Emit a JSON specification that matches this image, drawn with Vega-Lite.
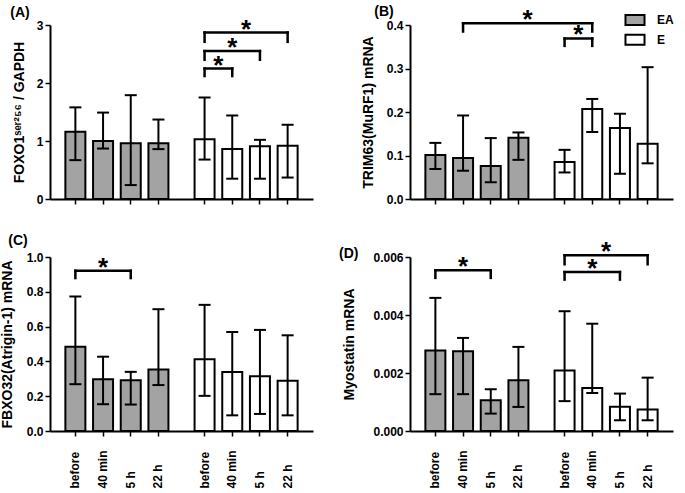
{
  "$schema": "https://vega.github.io/schema/vega-lite/v6.json",
  "padding": {"left": 0, "top": 5, "right": 2, "bottom": 2},
  "columns": 2,
  "spacing": {"row": 29, "column": 25},
  "resolve": {"scale": {"x": "independent", "y": "independent", "fill": "independent"}, "legend": {"fill": "independent"}},
  "config": {
    "view": {"stroke": null},
    "font": "Liberation Sans, Arial, sans-serif",
    "axis": {"domainColor": "black", "domainWidth": 2, "tickColor": "black", "tickWidth": 1.5, "tickSize": 5, "labelFont": "Liberation Sans, Arial, sans-serif", "labelFontSize": 12, "labelFontWeight": "bold", "labelColor": "black", "labelPadding": 2, "labelOverlap": false, "labelFlush": false, "labelBound": false, "titleFont": "Liberation Sans, Arial, sans-serif", "titleFontSize": 14, "titleFontWeight": "bold", "titleColor": "black", "titlePadding": 10, "grid": false},
    "title": {"font": "Liberation Sans, Arial, sans-serif", "fontSize": 14, "fontWeight": "bold", "color": "black", "anchor": "start", "frame": "bounds"}
  },
  "datasets": {
    "bars": [
      {"panel": "A", "bar": "EA before", "group": "EA", "value": 1.16, "lo": 0.67, "hi": 1.58},
      {"panel": "A", "bar": "EA 40 min", "group": "EA", "value": 1.0, "lo": 0.87, "hi": 1.49},
      {"panel": "A", "bar": "EA 5 h", "group": "EA", "value": 0.96, "lo": 0.24, "hi": 1.79},
      {"panel": "A", "bar": "EA 22 h", "group": "EA", "value": 0.96, "lo": 0.86, "hi": 1.37},
      {"panel": "A", "bar": "E before", "group": "E", "value": 1.03, "lo": 0.68, "hi": 1.75},
      {"panel": "A", "bar": "E 40 min", "group": "E", "value": 0.86, "lo": 0.35, "hi": 1.44},
      {"panel": "A", "bar": "E 5 h", "group": "E", "value": 0.91, "lo": 0.35, "hi": 1.02},
      {"panel": "A", "bar": "E 22 h", "group": "E", "value": 0.92, "lo": 0.37, "hi": 1.28},
      {"panel": "B", "bar": "EA before", "group": "EA", "value": 0.101, "lo": 0.069, "hi": 0.129},
      {"panel": "B", "bar": "EA 40 min", "group": "EA", "value": 0.094, "lo": 0.065, "hi": 0.192},
      {"panel": "B", "bar": "EA 5 h", "group": "EA", "value": 0.076, "lo": 0.0385, "hi": 0.14},
      {"panel": "B", "bar": "EA 22 h", "group": "EA", "value": 0.141, "lo": 0.09, "hi": 0.153},
      {"panel": "B", "bar": "E before", "group": "E", "value": 0.085, "lo": 0.061, "hi": 0.113},
      {"panel": "B", "bar": "E 40 min", "group": "E", "value": 0.207, "lo": 0.154, "hi": 0.23},
      {"panel": "B", "bar": "E 5 h", "group": "E", "value": 0.163, "lo": 0.058, "hi": 0.196},
      {"panel": "B", "bar": "E 22 h", "group": "E", "value": 0.127, "lo": 0.082, "hi": 0.303},
      {"panel": "C", "bar": "EA before", "group": "EA", "value": 0.484, "lo": 0.269, "hi": 0.773},
      {"panel": "C", "bar": "EA 40 min", "group": "EA", "value": 0.298, "lo": 0.154, "hi": 0.427},
      {"panel": "C", "bar": "EA 5 h", "group": "EA", "value": 0.292, "lo": 0.152, "hi": 0.34},
      {"panel": "C", "bar": "EA 22 h", "group": "EA", "value": 0.354, "lo": 0.264, "hi": 0.7},
      {"panel": "C", "bar": "E before", "group": "E", "value": 0.413, "lo": 0.202, "hi": 0.725},
      {"panel": "C", "bar": "E 40 min", "group": "E", "value": 0.339, "lo": 0.09, "hi": 0.569},
      {"panel": "C", "bar": "E 5 h", "group": "E", "value": 0.314, "lo": 0.098, "hi": 0.581},
      {"panel": "C", "bar": "E 22 h", "group": "E", "value": 0.289, "lo": 0.09, "hi": 0.55},
      {"panel": "D", "bar": "EA before", "group": "EA", "value": 0.00278, "lo": 0.00127, "hi": 0.00459},
      {"panel": "D", "bar": "EA 40 min", "group": "EA", "value": 0.00275, "lo": 0.00127, "hi": 0.00321},
      {"panel": "D", "bar": "EA 5 h", "group": "EA", "value": 0.00106, "lo": 0.0006, "hi": 0.00144},
      {"panel": "D", "bar": "EA 22 h", "group": "EA", "value": 0.00175, "lo": 0.00083, "hi": 0.0029},
      {"panel": "D", "bar": "E before", "group": "E", "value": 0.00209, "lo": 0.00103, "hi": 0.00413},
      {"panel": "D", "bar": "E 40 min", "group": "E", "value": 0.00148, "lo": 0.00131, "hi": 0.0037},
      {"panel": "D", "bar": "E 5 h", "group": "E", "value": 0.00084, "lo": 0.00037, "hi": 0.00129},
      {"panel": "D", "bar": "E 22 h", "group": "E", "value": 0.00074, "lo": 0.00037, "hi": 0.00184}
    ],
    "brackets": [
      {"panel": "A", "from": "E before", "to": "E 40 min", "mid": "s31", "y": 2.25, "yb": 2.12},
      {"panel": "A", "from": "E before", "to": "E 5 h", "mid": "E 40 min", "y": 2.55, "yb": 2.4},
      {"panel": "A", "from": "E before", "to": "E 22 h", "mid": "s37", "y": 2.87, "yb": 2.71},
      {"panel": "B", "from": "EA 40 min", "to": "E 40 min", "mid": "s20", "y": 0.404, "yb": 0.385},
      {"panel": "B", "from": "E before", "to": "E 40 min", "mid": "s31", "y": 0.369, "yb": 0.352},
      {"panel": "C", "from": "EA before", "to": "EA 5 h", "mid": "EA 40 min", "y": 0.921, "yb": 0.879},
      {"panel": "D", "from": "EA before", "to": "EA 5 h", "mid": "EA 40 min", "y": 0.00554, "yb": 0.00528},
      {"panel": "D", "from": "E before", "to": "E 5 h", "mid": "E 40 min", "y": 0.00548, "yb": 0.00522},
      {"panel": "D", "from": "E before", "to": "E 22 h", "mid": "s37", "y": 0.00606, "yb": 0.00575}
    ]
  },
  "concat": [
    {
      "width": 263, "height": 174,
      "title": {"text": "(A)", "offset": -3, "dx": -2},
      "layer": [
        {"data": {"name": "bars"}, "transform": [{"filter": "datum.panel === 'A'"}],
         "mark": {"type": "bar", "width": 20, "stroke": "black", "strokeWidth": 2, "opacity": 1},
         "encoding": {
           "x": {"field": "bar", "type": "nominal", "title": null, "scale": {"domain": ["l1","l2","l3","l4","l5","EA before","s1","s2","s3","s4","s5","EA 40 min","s7","s8","s9","s10","s11","EA 5 h","s13","s14","s15","s16","s17","EA 22 h","s19","s20","s21","s22","s23","s24","s25","s26","s27","E before","s29","s30","s31","s32","s33","E 40 min","s35","s36","s37","s38","s39","E 5 h","s41","s42","s43","s44","s45","E 22 h","r1","r2","r3","r4","r5"], "paddingInner": 0, "paddingOuter": 0},
                 "axis": {"values": ["EA before","EA 40 min","EA 5 h","EA 22 h","E before","E 40 min","E 5 h","E 22 h"], "labels": false}},
           "y": {"field": "value", "type": "quantitative", "scale": {"domain": [0, 3], "nice": false}, "axis": {"values": [0, 1, 2, 3], "format": "d", "labelOverlap": false}, "title": "FOXO1ˢᵉʳ²⁵⁶ / GAPDH"},
           "fill": {"field": "group", "type": "nominal", "scale": {"domain": ["EA", "E"], "range": ["#a3a3a3", "#ffffff"]}, "legend": null}
         }},
        {"data": {"name": "bars"}, "transform": [{"filter": "datum.panel === 'A'"}],
         "mark": {"type": "rule", "color": "black", "strokeWidth": 2},
         "encoding": {"x": {"field": "bar", "type": "nominal"}, "y": {"field": "lo", "type": "quantitative"}, "y2": {"field": "hi"}}},
        {"data": {"name": "bars"}, "transform": [{"filter": "datum.panel === 'A'"}],
         "mark": {"type": "tick", "color": "black", "size": 12, "thickness": 2, "opacity": 1, "orient": "horizontal"},
         "encoding": {"x": {"field": "bar", "type": "nominal"}, "y": {"field": "lo", "type": "quantitative"}}},
        {"data": {"name": "bars"}, "transform": [{"filter": "datum.panel === 'A'"}],
         "mark": {"type": "tick", "color": "black", "size": 12, "thickness": 2, "opacity": 1, "orient": "horizontal"},
         "encoding": {"x": {"field": "bar", "type": "nominal"}, "y": {"field": "hi", "type": "quantitative"}}},
        {"data": {"name": "brackets"}, "transform": [{"filter": "datum.panel === 'A'"}],
         "mark": {"type": "rule", "color": "black", "strokeWidth": 2.5, "strokeCap": "square"},
         "encoding": {"x": {"field": "from", "type": "nominal"}, "x2": {"field": "to"}, "y": {"field": "y", "type": "quantitative"}}},
        {"data": {"name": "brackets"}, "transform": [{"filter": "datum.panel === 'A'"}],
         "mark": {"type": "rule", "color": "black", "strokeWidth": 2.5, "strokeCap": "square"},
         "encoding": {"x": {"field": "from", "type": "nominal"}, "y": {"field": "y", "type": "quantitative"}, "y2": {"field": "yb"}}},
        {"data": {"name": "brackets"}, "transform": [{"filter": "datum.panel === 'A'"}],
         "mark": {"type": "rule", "color": "black", "strokeWidth": 2.5, "strokeCap": "square"},
         "encoding": {"x": {"field": "to", "type": "nominal"}, "y": {"field": "y", "type": "quantitative"}, "y2": {"field": "yb"}}},
        {"data": {"name": "brackets"}, "transform": [{"filter": "datum.panel === 'A'"}],
         "mark": {"type": "text", "text": "*", "fontSize": 26, "fontWeight": "bold", "color": "black", "baseline": "middle", "dy": -3},
         "encoding": {"x": {"field": "mid", "type": "nominal"}, "y": {"field": "y", "type": "quantitative"}}}
      ]
    },
    {
      "width": 263, "height": 174,
      "title": {"text": "(B)", "offset": -12, "dx": 13},
      "layer": [
        {"data": {"name": "bars"}, "transform": [{"filter": "datum.panel === 'B'"}],
         "mark": {"type": "bar", "width": 20, "stroke": "black", "strokeWidth": 2, "opacity": 1},
         "encoding": {
           "x": {"field": "bar", "type": "nominal", "title": null, "scale": {"domain": ["l1","l2","l3","l4","l5","EA before","s1","s2","s3","s4","s5","EA 40 min","s7","s8","s9","s10","s11","EA 5 h","s13","s14","s15","s16","s17","EA 22 h","s19","s20","s21","s22","s23","s24","s25","s26","s27","E before","s29","s30","s31","s32","s33","E 40 min","s35","s36","s37","s38","s39","E 5 h","s41","s42","s43","s44","s45","E 22 h","r1","r2","r3","r4","r5"], "paddingInner": 0, "paddingOuter": 0},
                 "axis": {"values": ["EA before","EA 40 min","EA 5 h","EA 22 h","E before","E 40 min","E 5 h","E 22 h"], "labels": false}},
           "y": {"field": "value", "type": "quantitative", "scale": {"domain": [0, 0.4], "nice": false}, "axis": {"values": [0, 0.1, 0.2, 0.3, 0.4], "format": ".1f", "labelOverlap": false, "titlePadding": 11}, "title": "TRIM63(MuRF1) mRNA"},
           "fill": {"field": "group", "type": "nominal", "scale": {"domain": ["EA", "E"], "range": ["#a3a3a3", "#ffffff"]},
                    "legend": {"orient": "none", "legendX": 216, "legendY": -14, "title": null, "padding": 0, "symbolType": "M-1.19,-0.62H1.19V0.62H-1.19Z", "symbolSize": 256, "symbolStrokeColor": "black", "symbolStrokeWidth": 2, "symbolOpacity": 1, "labelFontSize": 12, "labelFontWeight": "bold", "labelColor": "black", "labelOffset": 13, "rowPadding": 1.7}}
         }},
        {"data": {"name": "bars"}, "transform": [{"filter": "datum.panel === 'B'"}],
         "mark": {"type": "rule", "color": "black", "strokeWidth": 2},
         "encoding": {"x": {"field": "bar", "type": "nominal"}, "y": {"field": "lo", "type": "quantitative"}, "y2": {"field": "hi"}}},
        {"data": {"name": "bars"}, "transform": [{"filter": "datum.panel === 'B'"}],
         "mark": {"type": "tick", "color": "black", "size": 12, "thickness": 2, "opacity": 1, "orient": "horizontal"},
         "encoding": {"x": {"field": "bar", "type": "nominal"}, "y": {"field": "lo", "type": "quantitative"}}},
        {"data": {"name": "bars"}, "transform": [{"filter": "datum.panel === 'B'"}],
         "mark": {"type": "tick", "color": "black", "size": 12, "thickness": 2, "opacity": 1, "orient": "horizontal"},
         "encoding": {"x": {"field": "bar", "type": "nominal"}, "y": {"field": "hi", "type": "quantitative"}}},
        {"data": {"name": "brackets"}, "transform": [{"filter": "datum.panel === 'B'"}],
         "mark": {"type": "rule", "color": "black", "strokeWidth": 2.5, "strokeCap": "square"},
         "encoding": {"x": {"field": "from", "type": "nominal"}, "x2": {"field": "to"}, "y": {"field": "y", "type": "quantitative"}}},
        {"data": {"name": "brackets"}, "transform": [{"filter": "datum.panel === 'B'"}],
         "mark": {"type": "rule", "color": "black", "strokeWidth": 2.5, "strokeCap": "square"},
         "encoding": {"x": {"field": "from", "type": "nominal"}, "y": {"field": "y", "type": "quantitative"}, "y2": {"field": "yb"}}},
        {"data": {"name": "brackets"}, "transform": [{"filter": "datum.panel === 'B'"}],
         "mark": {"type": "rule", "color": "black", "strokeWidth": 2.5, "strokeCap": "square"},
         "encoding": {"x": {"field": "to", "type": "nominal"}, "y": {"field": "y", "type": "quantitative"}, "y2": {"field": "yb"}}},
        {"data": {"name": "brackets"}, "transform": [{"filter": "datum.panel === 'B'"}],
         "mark": {"type": "text", "text": "*", "fontSize": 26, "fontWeight": "bold", "color": "black", "baseline": "middle", "dy": -3},
         "encoding": {"x": {"field": "mid", "type": "nominal"}, "y": {"field": "y", "type": "quantitative"}}}
      ]
    },
    {
      "width": 263, "height": 174,
      "title": {"text": "(C)", "offset": 3, "dx": 8},
      "layer": [
        {"data": {"name": "bars"}, "transform": [{"filter": "datum.panel === 'C'"}],
         "mark": {"type": "bar", "width": 20, "stroke": "black", "strokeWidth": 2, "opacity": 1},
         "encoding": {
           "x": {"field": "bar", "type": "nominal", "title": null, "scale": {"domain": ["l1","l2","l3","l4","l5","EA before","s1","s2","s3","s4","s5","EA 40 min","s7","s8","s9","s10","s11","EA 5 h","s13","s14","s15","s16","s17","EA 22 h","s19","s20","s21","s22","s23","s24","s25","s26","s27","E before","s29","s30","s31","s32","s33","E 40 min","s35","s36","s37","s38","s39","E 5 h","s41","s42","s43","s44","s45","E 22 h","r1","r2","r3","r4","r5"], "paddingInner": 0, "paddingOuter": 0},
                 "axis": {"values": ["EA before","EA 40 min","EA 5 h","EA 22 h","E before","E 40 min","E 5 h","E 22 h"], "labelAngle": -90, "labelAlign": "left", "labelBaseline": "middle", "labelPadding": 52, "labelOverlap": false, "labelExpr": "slice(datum.value, indexof(datum.value, ' ') + 1)"}},
           "y": {"field": "value", "type": "quantitative", "scale": {"domain": [0, 1], "nice": false}, "axis": {"tickCount": 5, "format": ".1f", "labelOverlap": false, "labelSeparation": 0, "titlePadding": 12}, "title": "FBXO32(Atrigin-1) mRNA"},
           "fill": {"field": "group", "type": "nominal", "scale": {"domain": ["EA", "E"], "range": ["#a3a3a3", "#ffffff"]}, "legend": null}
         }},
        {"data": {"name": "bars"}, "transform": [{"filter": "datum.panel === 'C'"}],
         "mark": {"type": "rule", "color": "black", "strokeWidth": 2},
         "encoding": {"x": {"field": "bar", "type": "nominal"}, "y": {"field": "lo", "type": "quantitative", "axis": {"labelOverlap": false}}, "y2": {"field": "hi"}}},
        {"data": {"name": "bars"}, "transform": [{"filter": "datum.panel === 'C'"}],
         "mark": {"type": "tick", "color": "black", "size": 12, "thickness": 2, "opacity": 1, "orient": "horizontal"},
         "encoding": {"x": {"field": "bar", "type": "nominal"}, "y": {"field": "lo", "type": "quantitative", "axis": {"labelOverlap": false}}}},
        {"data": {"name": "bars"}, "transform": [{"filter": "datum.panel === 'C'"}],
         "mark": {"type": "tick", "color": "black", "size": 12, "thickness": 2, "opacity": 1, "orient": "horizontal"},
         "encoding": {"x": {"field": "bar", "type": "nominal"}, "y": {"field": "hi", "type": "quantitative", "axis": {"labelOverlap": false}}}},
        {"data": {"name": "brackets"}, "transform": [{"filter": "datum.panel === 'C'"}],
         "mark": {"type": "rule", "color": "black", "strokeWidth": 2.5, "strokeCap": "square"},
         "encoding": {"x": {"field": "from", "type": "nominal"}, "x2": {"field": "to"}, "y": {"field": "y", "type": "quantitative", "axis": {"labelOverlap": false}}}},
        {"data": {"name": "brackets"}, "transform": [{"filter": "datum.panel === 'C'"}],
         "mark": {"type": "rule", "color": "black", "strokeWidth": 2.5, "strokeCap": "square"},
         "encoding": {"x": {"field": "from", "type": "nominal"}, "y": {"field": "y", "type": "quantitative", "axis": {"labelOverlap": false}}, "y2": {"field": "yb"}}},
        {"data": {"name": "brackets"}, "transform": [{"filter": "datum.panel === 'C'"}],
         "mark": {"type": "rule", "color": "black", "strokeWidth": 2.5, "strokeCap": "square"},
         "encoding": {"x": {"field": "to", "type": "nominal"}, "y": {"field": "y", "type": "quantitative", "axis": {"labelOverlap": false}}, "y2": {"field": "yb"}}},
        {"data": {"name": "brackets"}, "transform": [{"filter": "datum.panel === 'C'"}],
         "mark": {"type": "text", "text": "*", "fontSize": 26, "fontWeight": "bold", "color": "black", "baseline": "middle", "dy": -3},
         "encoding": {"x": {"field": "mid", "type": "nominal"}, "y": {"field": "y", "type": "quantitative", "axis": {"labelOverlap": false}}}}
      ]
    },
    {
      "width": 263, "height": 174,
      "title": {"text": "(D)", "offset": -22, "dx": -4},
      "layer": [
        {"data": {"name": "bars"}, "transform": [{"filter": "datum.panel === 'D'"}],
         "mark": {"type": "bar", "width": 20, "stroke": "black", "strokeWidth": 2, "opacity": 1},
         "encoding": {
           "x": {"field": "bar", "type": "nominal", "title": null, "scale": {"domain": ["l1","l2","l3","l4","l5","EA before","s1","s2","s3","s4","s5","EA 40 min","s7","s8","s9","s10","s11","EA 5 h","s13","s14","s15","s16","s17","EA 22 h","s19","s20","s21","s22","s23","s24","s25","s26","s27","E before","s29","s30","s31","s32","s33","E 40 min","s35","s36","s37","s38","s39","E 5 h","s41","s42","s43","s44","s45","E 22 h","r1","r2","r3","r4","r5"], "paddingInner": 0, "paddingOuter": 0},
                 "axis": {"values": ["EA before","EA 40 min","EA 5 h","EA 22 h","E before","E 40 min","E 5 h","E 22 h"], "labelAngle": -90, "labelAlign": "left", "labelBaseline": "middle", "labelPadding": 52, "labelOverlap": false, "labelExpr": "slice(datum.value, indexof(datum.value, ' ') + 1)"}},
           "y": {"field": "value", "type": "quantitative", "scale": {"domain": [0, 0.006], "nice": false}, "axis": {"values": [0, 0.002, 0.004, 0.006], "format": ".3f", "labelOverlap": false, "titlePadding": 16}, "title": "Myostatin mRNA"},
           "fill": {"field": "group", "type": "nominal", "scale": {"domain": ["EA", "E"], "range": ["#a3a3a3", "#ffffff"]}, "legend": null}
         }},
        {"data": {"name": "bars"}, "transform": [{"filter": "datum.panel === 'D'"}],
         "mark": {"type": "rule", "color": "black", "strokeWidth": 2},
         "encoding": {"x": {"field": "bar", "type": "nominal"}, "y": {"field": "lo", "type": "quantitative"}, "y2": {"field": "hi"}}},
        {"data": {"name": "bars"}, "transform": [{"filter": "datum.panel === 'D'"}],
         "mark": {"type": "tick", "color": "black", "size": 12, "thickness": 2, "opacity": 1, "orient": "horizontal"},
         "encoding": {"x": {"field": "bar", "type": "nominal"}, "y": {"field": "lo", "type": "quantitative"}}},
        {"data": {"name": "bars"}, "transform": [{"filter": "datum.panel === 'D'"}],
         "mark": {"type": "tick", "color": "black", "size": 12, "thickness": 2, "opacity": 1, "orient": "horizontal"},
         "encoding": {"x": {"field": "bar", "type": "nominal"}, "y": {"field": "hi", "type": "quantitative"}}},
        {"data": {"name": "brackets"}, "transform": [{"filter": "datum.panel === 'D'"}],
         "mark": {"type": "rule", "color": "black", "strokeWidth": 2.5, "strokeCap": "square"},
         "encoding": {"x": {"field": "from", "type": "nominal"}, "x2": {"field": "to"}, "y": {"field": "y", "type": "quantitative"}}},
        {"data": {"name": "brackets"}, "transform": [{"filter": "datum.panel === 'D'"}],
         "mark": {"type": "rule", "color": "black", "strokeWidth": 2.5, "strokeCap": "square"},
         "encoding": {"x": {"field": "from", "type": "nominal"}, "y": {"field": "y", "type": "quantitative"}, "y2": {"field": "yb"}}},
        {"data": {"name": "brackets"}, "transform": [{"filter": "datum.panel === 'D'"}],
         "mark": {"type": "rule", "color": "black", "strokeWidth": 2.5, "strokeCap": "square"},
         "encoding": {"x": {"field": "to", "type": "nominal"}, "y": {"field": "y", "type": "quantitative"}, "y2": {"field": "yb"}}},
        {"data": {"name": "brackets"}, "transform": [{"filter": "datum.panel === 'D'"}],
         "mark": {"type": "text", "text": "*", "fontSize": 26, "fontWeight": "bold", "color": "black", "baseline": "middle", "dy": -3},
         "encoding": {"x": {"field": "mid", "type": "nominal"}, "y": {"field": "y", "type": "quantitative"}}}
      ]
    }
  ]
}
